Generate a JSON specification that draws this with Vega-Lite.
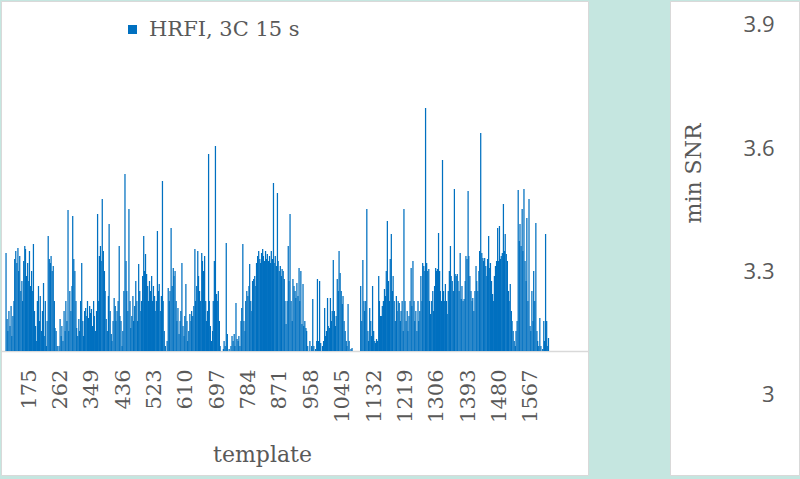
{
  "$schema": "https://vega.github.io/schema/vega-lite/v6.json",
  "padding": {"left": 0, "top": 0, "right": 0, "bottom": 5},
  "background": "#c5e6e0",
  "spacing": 80,
  "config": {
    "view": {"fill": "white", "stroke": "#d9d9d9"},
    "font": "DejaVu Serif"
  },
  "hconcat": [
    {
      "width": 587,
      "height": 474,
      "data": {"values": [
        {"template":111,"snr":3.196},{"template":114,"snr":3.064},{"template":116,"snr":3.04},{"template":119,"snr":3.08},{"template":122,"snr":3.05},{"template":125,"snr":3.09},{"template":127,"snr":3.03},{"template":130,"snr":3.07},{"template":133,"snr":3.1},{"template":135,"snr":3.184},{"template":138,"snr":3.2},
        {"template":141,"snr":3.176},{"template":144,"snr":3.206},{"template":146,"snr":3.16},{"template":149,"snr":3.19},{"template":152,"snr":3.12},{"template":155,"snr":3.14},{"template":157,"snr":3.1},{"template":160,"snr":3.18},{"template":163,"snr":3.21},{"template":165,"snr":3.204},{"template":168,"snr":3.15},
        {"template":171,"snr":3.176},{"template":174,"snr":3.14},{"template":176,"snr":3.2},{"template":179,"snr":3.13},{"template":182,"snr":3.16},{"template":185,"snr":3.12},{"template":187,"snr":3.214},{"template":190,"snr":3.08},{"template":193,"snr":3.05},{"template":195,"snr":3.02},{"template":198,"snr":3.1},
        {"template":201,"snr":3.13},{"template":204,"snr":3.06},{"template":206,"snr":3.11},{"template":209,"snr":3.04},{"template":212,"snr":3.08},{"template":215,"snr":3.136},{"template":217,"snr":3.03},{"template":220,"snr":3.1},{"template":223,"snr":3.01},{"template":225,"snr":3.06},{"template":228,"snr":3.23},
        {"template":231,"snr":3.184},{"template":234,"snr":3.176},{"template":236,"snr":3.19},{"template":239,"snr":3.16},{"template":242,"snr":3.17},{"template":245,"snr":3.1},{"template":247,"snr":3.046},{"template":250,"snr":3.04},{"template":253,"snr":3.01},{"template":255,"snr":3},{"template":258,"snr":3.01},
        {"template":261,"snr":3.064},{"template":264,"snr":3.03},{"template":266,"snr":3.05},{"template":269,"snr":3.02},{"template":272,"snr":3.08},{"template":275,"snr":3.04},{"template":277,"snr":3.1},{"template":280,"snr":3.06},{"template":283,"snr":3.282},{"template":285,"snr":3.04},{"template":288,"snr":3.12},
        {"template":291,"snr":3.08},{"template":294,"snr":3.13},{"template":296,"snr":3.27},{"template":299,"snr":3.184},{"template":302,"snr":3.16},{"template":305,"snr":3.1},{"template":307,"snr":3.046},{"template":310,"snr":3.03},{"template":313,"snr":3.064},{"template":315,"snr":3.04},{"template":318,"snr":3.1},
        {"template":321,"snr":3.176},{"template":324,"snr":3.06},{"template":326,"snr":3.03},{"template":329,"snr":3.08},{"template":332,"snr":3.086},{"template":335,"snr":3.07},{"template":337,"snr":3.1},{"template":340,"snr":3.066},{"template":343,"snr":3.09},{"template":345,"snr":3.076},{"template":348,"snr":3.084},
        {"template":351,"snr":3.05},{"template":354,"snr":3.1},{"template":356,"snr":3.07},{"template":359,"snr":3.04},{"template":362,"snr":3.08},{"template":365,"snr":3.274},{"template":367,"snr":3.1},{"template":370,"snr":3.19},{"template":373,"snr":3.21},{"template":375,"snr":3.18},{"template":378,"snr":3.304},
        {"template":381,"snr":3.2},{"template":384,"snr":3.16},{"template":386,"snr":3.12},{"template":389,"snr":3.064},{"template":392,"snr":3.04},{"template":395,"snr":3.11},{"template":397,"snr":3.254},{"template":400,"snr":3.08},{"template":403,"snr":3.034},{"template":405,"snr":3.02},{"template":408,"snr":3.06},
        {"template":411,"snr":3.106},{"template":414,"snr":3.09},{"template":416,"snr":3.06},{"template":419,"snr":3.08},{"template":422,"snr":3.1},{"template":425,"snr":3.21},{"template":427,"snr":3.07},{"template":430,"snr":3.06},{"template":433,"snr":3.01},{"template":435,"snr":3.04},{"template":438,"snr":3.12},
        {"template":441,"snr":3.354},{"template":444,"snr":3.18},{"template":446,"snr":3.12},{"template":449,"snr":3.08},{"template":452,"snr":3.284},{"template":455,"snr":3.1},{"template":457,"snr":3.046},{"template":460,"snr":3.07},{"template":463,"snr":3.11},{"template":465,"snr":3.06},{"template":468,"snr":3.09},
        {"template":471,"snr":3.14},{"template":474,"snr":3.1},{"template":476,"snr":3.06},{"template":479,"snr":3.174},{"template":482,"snr":3.12},{"template":485,"snr":3.08},{"template":487,"snr":3.1},{"template":490,"snr":3.15},{"template":493,"snr":3.23},{"template":495,"snr":3.16},{"template":498,"snr":3.194},
        {"template":501,"snr":3.154},{"template":504,"snr":3.13},{"template":506,"snr":3.1},{"template":509,"snr":3.14},{"template":512,"snr":3.12},{"template":515,"snr":3.15},{"template":517,"snr":3.1},{"template":520,"snr":3.13},{"template":523,"snr":3.11},{"template":525,"snr":3.08},{"template":528,"snr":3.1},
        {"template":531,"snr":3.24},{"template":534,"snr":3.12},{"template":536,"snr":3.134},{"template":539,"snr":3.08},{"template":542,"snr":3.11},{"template":545,"snr":3.34},{"template":547,"snr":3.1},{"template":550,"snr":3.04},{"template":553,"snr":3.01},{"template":555,"snr":3},{"template":558,"snr":3.02},
        {"template":561,"snr":3.126},{"template":564,"snr":3.1},{"template":566,"snr":3.12},{"template":569,"snr":3.246},{"template":572,"snr":3.13},{"template":575,"snr":3.166},{"template":577,"snr":3.15},{"template":580,"snr":3.16},{"template":583,"snr":3.1},{"template":585,"snr":3.06},{"template":588,"snr":3.086},
        {"template":591,"snr":3.034},{"template":594,"snr":3.06},{"template":596,"snr":3.08},{"template":599,"snr":3.176},{"template":602,"snr":3.05},{"template":605,"snr":3.03},{"template":607,"snr":3.07},{"template":610,"snr":3.134},{"template":613,"snr":3.06},{"template":615,"snr":3.02},{"template":618,"snr":3.04},
        {"template":621,"snr":3.074},{"template":624,"snr":3.06},{"template":626,"snr":3.08},{"template":629,"snr":3.07},{"template":632,"snr":3.09},{"template":635,"snr":3.204},{"template":637,"snr":3.1},{"template":640,"snr":3.13},{"template":643,"snr":3.2},{"template":645,"snr":3.15},{"template":648,"snr":3.12},
        {"template":651,"snr":3.1},{"template":654,"snr":3.196},{"template":656,"snr":3.18},{"template":659,"snr":3.16},{"template":662,"snr":3.19},{"template":665,"snr":3.1},{"template":667,"snr":3.06},{"template":670,"snr":3.08},{"template":673,"snr":3.394},{"template":675,"snr":3.1},{"template":678,"snr":3.05},
        {"template":681,"snr":3.02},{"template":684,"snr":3.04},{"template":686,"snr":3.1},{"template":689,"snr":3.18},{"template":692,"snr":3.41},{"template":695,"snr":3.114},{"template":697,"snr":3.1},{"template":700,"snr":3.12},{"template":703,"snr":3.06},{"template":705,"snr":3.01},{"template":708,"snr":3},
        {"template":711,"snr":3},{"template":714,"snr":3.004},{"template":716,"snr":3.02},{"template":719,"snr":3.01},{"template":722,"snr":3.216},{"template":725,"snr":3.034},{"template":727,"snr":3},{"template":730,"snr":3.004},{"template":733,"snr":3},{"template":735,"snr":3.01},{"template":738,"snr":3.03},
        {"template":741,"snr":3.02},{"template":744,"snr":3.034},{"template":746,"snr":3.01},{"template":749,"snr":3.096},{"template":752,"snr":3.024},{"template":755,"snr":3.02},{"template":757,"snr":3.03},{"template":760,"snr":3.01},{"template":763,"snr":3.06},{"template":765,"snr":3.086},{"template":768,"snr":3.214},
        {"template":771,"snr":3.06},{"template":774,"snr":3.04},{"template":776,"snr":3.1},{"template":779,"snr":3.12},{"template":782,"snr":3.11},{"template":785,"snr":3.13},{"template":787,"snr":3.174},{"template":790,"snr":3.1},{"template":793,"snr":3.08},{"template":795,"snr":3.14},{"template":798,"snr":3.144},
        {"template":801,"snr":3.15},{"template":804,"snr":3.13},{"template":806,"snr":3.176},{"template":809,"snr":3.19},{"template":812,"snr":3.2},{"template":815,"snr":3.184},{"template":817,"snr":3.176},{"template":820,"snr":3.196},{"template":823,"snr":3.204},{"template":825,"snr":3.19},{"template":828,"snr":3.18},
        {"template":831,"snr":3.2},{"template":834,"snr":3.184},{"template":836,"snr":3.194},{"template":839,"snr":3.18},{"template":842,"snr":3.19},{"template":845,"snr":3.176},{"template":847,"snr":3.2},{"template":850,"snr":3.184},{"template":853,"snr":3.336},{"template":855,"snr":3.176},{"template":858,"snr":3.19},
        {"template":861,"snr":3.17},{"template":864,"snr":3.316},{"template":866,"snr":3.18},{"template":869,"snr":3.16},{"template":872,"snr":3.17},{"template":875,"snr":3.15},{"template":877,"snr":3.164},{"template":880,"snr":3.16},{"template":883,"snr":3.144},{"template":885,"snr":3.1},{"template":888,"snr":3.054},
        {"template":891,"snr":3.1},{"template":894,"snr":3.21},{"template":896,"snr":3.14},{"template":899,"snr":3.274},{"template":902,"snr":3.1},{"template":905,"snr":3.06},{"template":907,"snr":3.144},{"template":910,"snr":3.13},{"template":913,"snr":3.12},{"template":915,"snr":3.106},{"template":918,"snr":3.136},
        {"template":921,"snr":3.11},{"template":924,"snr":3.166},{"template":926,"snr":3.1},{"template":929,"snr":3.16},{"template":932,"snr":3.054},{"template":935,"snr":3.134},{"template":937,"snr":3.05},{"template":940,"snr":3.06},{"template":943,"snr":3.046},{"template":945,"snr":3.04},{"template":948,"snr":3.01},
        {"template":951,"snr":3},{"template":954,"snr":3.02},{"template":956,"snr":3},{"template":959,"snr":3.01},{"template":962,"snr":3.104},{"template":965,"snr":3.01},{"template":967,"snr":3},{"template":970,"snr":3.004},{"template":973,"snr":3.02},{"template":975,"snr":3.144},{"template":978,"snr":3.02},
        {"template":981,"snr":3.14},{"template":984,"snr":3.016},{"template":986,"snr":3},{"template":989,"snr":3.01},{"template":992,"snr":3.02},{"template":995,"snr":3.086},{"template":997,"snr":3.03},{"template":1000,"snr":3.04},{"template":1003,"snr":3.106},{"template":1005,"snr":3.05},{"template":1008,"snr":3.046},
        {"template":1011,"snr":3.106},{"template":1014,"snr":3.06},{"template":1016,"snr":3.08},{"template":1019,"snr":3.182},{"template":1022,"snr":3.08},{"template":1025,"snr":3.05},{"template":1027,"snr":3.07},{"template":1030,"snr":3.144},{"template":1033,"snr":3.12},{"template":1035,"snr":3.2},{"template":1038,"snr":3.156},
        {"template":1041,"snr":3.12},{"template":1044,"snr":3.094},{"template":1046,"snr":3.11},{"template":1049,"snr":3.06},{"template":1052,"snr":3.04},{"template":1055,"snr":3.02},{"template":1057,"snr":3.01},{"template":1060,"snr":3.094},{"template":1063,"snr":3.02},{"template":1065,"snr":3},{"template":1068,"snr":3.004},
        {"template":1071,"snr":3.006},{"template":1074,"snr":3},{"template":1076,"snr":3},{"template":1079,"snr":3},{"template":1082,"snr":3},{"template":1085,"snr":3},{"template":1087,"snr":3},{"template":1090,"snr":3},{"template":1093,"snr":3},{"template":1095,"snr":3.13},{"template":1098,"snr":3.06},
        {"template":1101,"snr":3.182},{"template":1104,"snr":3.1},{"template":1106,"snr":3.08},{"template":1109,"snr":3.1},{"template":1112,"snr":3.284},{"template":1115,"snr":3.04},{"template":1117,"snr":3.02},{"template":1120,"snr":3.086},{"template":1123,"snr":3.06},{"template":1125,"snr":3.03},{"template":1128,"snr":3.13},
        {"template":1131,"snr":3.04},{"template":1134,"snr":3.02},{"template":1136,"snr":3.016},{"template":1139,"snr":3.024},{"template":1142,"snr":3.02},{"template":1145,"snr":3.15},{"template":1147,"snr":3.1},{"template":1150,"snr":3.07},{"template":1153,"snr":3.07},{"template":1155,"snr":3.09},{"template":1158,"snr":3.1},
        {"template":1161,"snr":3.124},{"template":1164,"snr":3.11},{"template":1166,"snr":3.16},{"template":1169,"snr":3.26},{"template":1172,"snr":3.14},{"template":1175,"snr":3.1},{"template":1177,"snr":3.184},{"template":1180,"snr":3.234},{"template":1183,"snr":3.12},{"template":1185,"snr":3.15},{"template":1188,"snr":3.1},
        {"template":1191,"snr":3.06},{"template":1194,"snr":3.11},{"template":1196,"snr":3.08},{"template":1199,"snr":3.1},{"template":1202,"snr":3.096},{"template":1205,"snr":3.06},{"template":1207,"snr":3.08},{"template":1210,"snr":3.1},{"template":1213,"snr":3.04},{"template":1215,"snr":3.284},{"template":1218,"snr":3.1},
        {"template":1221,"snr":3.06},{"template":1224,"snr":3.08},{"template":1226,"snr":3.04},{"template":1229,"snr":3.07},{"template":1232,"snr":3.1},{"template":1235,"snr":3.166},{"template":1237,"snr":3.09},{"template":1240,"snr":3.18},{"template":1243,"snr":3.1},{"template":1245,"snr":3.06},{"template":1248,"snr":3.08},
        {"template":1251,"snr":3.04},{"template":1254,"snr":3.1},{"template":1256,"snr":3.06},{"template":1259,"snr":3.08},{"template":1262,"snr":3.15},{"template":1265,"snr":3.1},{"template":1267,"snr":3.176},{"template":1270,"snr":3.17},{"template":1273,"snr":3.16},{"template":1275,"snr":3.486},{"template":1278,"snr":3.176},
        {"template":1281,"snr":3.16},{"template":1284,"snr":3.164},{"template":1286,"snr":3.1},{"template":1289,"snr":3.074},{"template":1292,"snr":3.1},{"template":1295,"snr":3.12},{"template":1297,"snr":3.08},{"template":1300,"snr":3.13},{"template":1303,"snr":3.166},{"template":1305,"snr":3.16},{"template":1308,"snr":3.164},
        {"template":1311,"snr":3.236},{"template":1314,"snr":3.16},{"template":1316,"snr":3.12},{"template":1319,"snr":3.1},{"template":1322,"snr":3.382},{"template":1325,"snr":3.12},{"template":1327,"snr":3.1},{"template":1330,"snr":3.134},{"template":1333,"snr":3.1},{"template":1335,"snr":3.074},{"template":1338,"snr":3.12},
        {"template":1341,"snr":3.16},{"template":1344,"snr":3.21},{"template":1346,"snr":3.15},{"template":1349,"snr":3.14},{"template":1352,"snr":3.12},{"template":1355,"snr":3.324},{"template":1357,"snr":3.154},{"template":1360,"snr":3.15},{"template":1363,"snr":3.154},{"template":1365,"snr":3.14},{"template":1368,"snr":3.12},
        {"template":1371,"snr":3.196},{"template":1374,"snr":3.104},{"template":1376,"snr":3.13},{"template":1379,"snr":3.1},{"template":1382,"snr":3.104},{"template":1385,"snr":3.14},{"template":1387,"snr":3.19},{"template":1390,"snr":3.184},{"template":1393,"snr":3.32},{"template":1395,"snr":3.19},{"template":1398,"snr":3.15},
        {"template":1401,"snr":3.12},{"template":1404,"snr":3.1},{"template":1406,"snr":3.106},{"template":1409,"snr":3.08},{"template":1412,"snr":3.12},{"template":1415,"snr":3.17},{"template":1417,"snr":3.14},{"template":1420,"snr":3.12},{"template":1423,"snr":3.16},{"template":1425,"snr":3.2},{"template":1428,"snr":3.436},
        {"template":1431,"snr":3.196},{"template":1434,"snr":3.186},{"template":1436,"snr":3.18},{"template":1439,"snr":3.186},{"template":1442,"snr":3.17},{"template":1445,"snr":3.15},{"template":1447,"snr":3.184},{"template":1450,"snr":3.23},{"template":1453,"snr":3.166},{"template":1455,"snr":3.176},{"template":1458,"snr":3.14},
        {"template":1461,"snr":3.114},{"template":1464,"snr":3.1},{"template":1466,"snr":3.15},{"template":1469,"snr":3.17},{"template":1472,"snr":3.18},{"template":1475,"snr":3.246},{"template":1477,"snr":3.18},{"template":1480,"snr":3.25},{"template":1483,"snr":3.184},{"template":1485,"snr":3.19},{"template":1488,"snr":3.196},
        {"template":1491,"snr":3.294},{"template":1494,"snr":3.2},{"template":1496,"snr":3.234},{"template":1499,"snr":3.194},{"template":1502,"snr":3.18},{"template":1505,"snr":3.12},{"template":1507,"snr":3.1},{"template":1510,"snr":3.134},{"template":1513,"snr":3.08},{"template":1515,"snr":3.06},{"template":1518,"snr":3.04},
        {"template":1521,"snr":3.02},{"template":1524,"snr":3.01},{"template":1526,"snr":3.04},{"template":1529,"snr":3.06},{"template":1532,"snr":3.322},{"template":1535,"snr":3.22},{"template":1537,"snr":3.254},{"template":1540,"snr":3.21},{"template":1543,"snr":3.284},{"template":1545,"snr":3.2},{"template":1548,"snr":3.324},
        {"template":1551,"snr":3.18},{"template":1554,"snr":3.14},{"template":1556,"snr":3.266},{"template":1559,"snr":3.1},{"template":1562,"snr":3.304},{"template":1565,"snr":3.05},{"template":1567,"snr":3.04},{"template":1570,"snr":3.12},{"template":1573,"snr":3.06},{"template":1575,"snr":3.16},{"template":1578,"snr":3.1},
        {"template":1581,"snr":3.256},{"template":1584,"snr":3.04},{"template":1586,"snr":3.02},{"template":1589,"snr":3.01},{"template":1592,"snr":3.066},{"template":1595,"snr":3.01},{"template":1597,"snr":3},{"template":1600,"snr":3.004},{"template":1603,"snr":3.06},{"template":1605,"snr":3.02},{"template":1608,"snr":3.234},
        {"template":1611,"snr":3.06},{"template":1614,"snr":3.01},{"template":1616,"snr":3.026},{"template":1619,"snr":3}
      ]},
      "transform": [{"calculate": "'HRFI, 3C 15 s'", "as": "series"}],
      "mark": {"type": "bar", "width": 1.25},
      "encoding": {
        "x": {
          "field": "template",
          "type": "quantitative",
          "scale": {"domain": [110.9, 1711.8], "nice": false, "zero": false},
          "axis": {
            "values": [175, 262, 349, 436, 523, 610, 697, 784, 871, 958, 1045, 1132, 1219, 1306, 1393, 1480, 1567],
            "format": "d",
            "labelAngle": 270,
            "labelFont": "DejaVu Serif",
            "labelFontSize": 21,
            "labelColor": "#595959",
            "labelPadding": 18,
            "labelOverlap": false,
            "labelFlush": false,
            "ticks": false,
            "tickSize": 0,
            "domain": true,
            "domainColor": "#d9d9d9",
            "domainWidth": 1.5,
            "grid": false,
            "offset": -124,
            "title": "template",
            "titleFont": "DejaVu Serif",
            "titleFontSize": 22,
            "titleFontWeight": "normal",
            "titleColor": "#595959",
            "titleX": 261,
            "titleY": 110,
            "titleAlign": "center",
            "titleBaseline": "alphabetic"
          }
        },
        "y": {
          "field": "snr",
          "type": "quantitative",
          "scale": {"domain": [2.752, 3.7], "nice": false, "zero": false},
          "axis": null
        },
        "y2": {"datum": 3},
        "color": {
          "field": "series",
          "type": "nominal",
          "scale": {"range": ["#0070c0"]},
          "legend": {
            "orient": "none",
            "legendX": 121,
            "legendY": 18,
            "title": null,
            "padding": 0,
            "symbolType": "square",
            "symbolSize": 81,
            "symbolStrokeWidth": 0,
            "labelFont": "DejaVu Serif",
            "labelFontSize": 21,
            "labelColor": "#595959",
            "labelOffset": 6
          }
        }
      }
    },
    {
      "width": 129,
      "height": 474,
      "data": {"values": [{"snr": 3}, {"snr": 3.3}, {"snr": 3.6}, {"snr": 3.9}]},
      "mark": {"type": "point", "opacity": 0},
      "encoding": {
        "y": {
          "field": "snr",
          "type": "quantitative",
          "scale": {"domain": [2.805, 3.958], "nice": false, "zero": false},
          "axis": {
            "values": [3, 3.3, 3.6, 3.9],
            "format": "~g",
            "labelFont": "Open Sans",
            "labelFontSize": 22,
            "labelColor": "#595959",
            "labelPadding": 0,
            "ticks": false,
            "tickSize": 0,
            "domain": false,
            "grid": false,
            "offset": -104,
            "title": "min SNR",
            "titleFont": "DejaVu Serif",
            "titleFontSize": 22,
            "titleFontWeight": "normal",
            "titleColor": "#595959",
            "titleAngle": 270,
            "titleX": -74,
            "titleY": 172,
            "titleAlign": "center",
            "titleBaseline": "alphabetic"
          }
        }
      }
    }
  ]
}
